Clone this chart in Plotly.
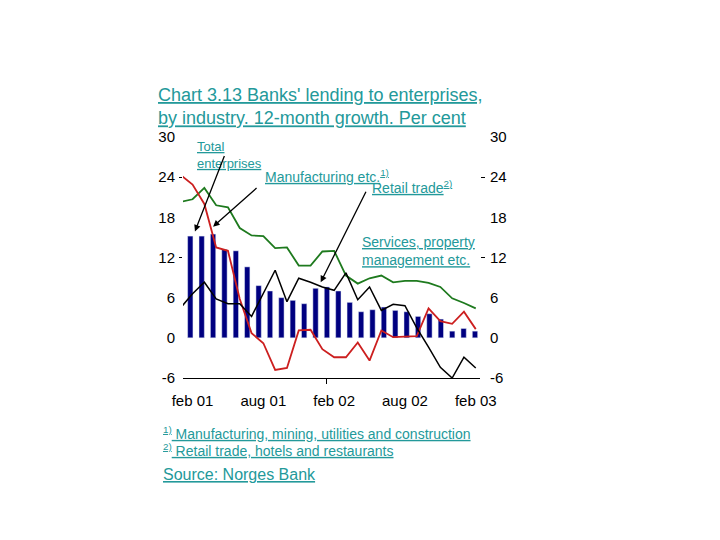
import plotly.graph_objects as go

# ---- data (12-month growth, per cent) ----
months = ["jan 01", "feb 01", "mar 01", "apr 01", "mai 01", "jun 01", "jul 01", "aug 01",
          "sep 01", "okt 01", "nov 01", "des 01", "jan 02", "feb 02", "mar 02", "apr 02",
          "mai 02", "jun 02", "jul 02", "aug 02", "sep 02", "okt 02", "nov 02", "des 02",
          "jan 03", "feb 03"]

total = [15.2, 15.2, 15.5, 13.2, 13.0, 10.6, 7.8, 7.0, 6.0, 5.6, 5.1, 7.4, 7.6,
         7.0, 5.3, 3.9, 4.2, 4.6, 4.1, 3.9, 3.2, 3.6, 2.8, 1.0, 1.4, 1.0]
manufacturing = [24.3, 22.9, 20.0, 13.5, 13.0, 5.8, 0.7, -0.8, -4.8, -4.5, 1.1, 1.2, -1.7,
                 -2.9, -2.9, -0.7, -3.4, 1.1, 0.1, 0.15, 0.25, 4.4, 2.5, 2.1, 3.9, 1.3]
retail = [4.5, 6.6, 8.3, 5.8, 5.1, 5.1, 3.2, 6.6, 10.1, 5.4, 8.9, 8.3, 7.6,
          7.1, 9.7, 5.7, 7.6, 4.1, 5.0, 4.8, 1.5, -1.4, -4.4, -6.0, -2.9, -4.5]
services = [20.3, 20.7, 22.4, 19.8, 19.5, 16.4, 15.3, 15.2, 13.4, 13.5, 10.8, 10.8, 12.9,
            13.0, 9.3, 8.1, 8.9, 9.3, 8.3, 8.5, 8.5, 8.2, 7.6, 5.9, 5.2, 4.4]

y_ticks = [-6, 0, 6, 12, 18, 24, 30]
y_ticktext = [str(v) for v in y_ticks]
y_dash = [12, 24]          # only these two have a tick dash in the original
x_labels = ["feb 01", "aug 01", "feb 02", "aug 02", "feb 03"]

TEAL = "#23999a"
FONT = "Liberation Sans, Arial"
idx = list(range(len(months)))

# plot area in page pixels; the page body adds an 8px margin around the figure
OFF = 8
L, R, T, B = 183, 480, 137, 378


def px_x(p):
    return (p - L) / (R - L)


def px_y(p):
    return (B - p) / (B - T)


fig = go.Figure()

fig.add_trace(go.Bar(x=idx, y=total, name="Total enterprises", marker_color="#000080",
                     width=0.47, xaxis="x", yaxis="y"))
fig.add_trace(go.Scatter(x=idx, y=services, name="Services", mode="lines",
                         line=dict(color="#1e7a1e", width=1.8), xaxis="x2", yaxis="y"))
fig.add_trace(go.Scatter(x=idx, y=manufacturing, name="Manufacturing", mode="lines",
                         line=dict(color="#cc1f1f", width=1.8), xaxis="x2", yaxis="y"))
fig.add_trace(go.Scatter(x=idx, y=retail, name="Retail trade", mode="lines",
                         line=dict(color="black", width=1.5), xaxis="x2", yaxis="y"))
# empty traces so the right axis and the dash axes are drawn
fig.add_trace(go.Scatter(x=[None], y=[None], yaxis="y2", xaxis="x", showlegend=False))
fig.add_trace(go.Scatter(x=[None], y=[None], yaxis="y3", xaxis="x", showlegend=False))
fig.add_trace(go.Scatter(x=[None], y=[None], yaxis="y4", xaxis="x", showlegend=False))

# bars and lines sit on slightly different category spacing in the original
fig.update_layout(
    width=720 - OFF, height=540 - OFF,
    margin=dict(l=L - OFF, r=720 - R, t=T - OFF, b=540 - B),
    paper_bgcolor="white", plot_bgcolor="white",
    showlegend=False,
    font=dict(family=FONT, color="black"),
    xaxis=dict(range=[-0.64, 25.44], showticklabels=False, showgrid=False, zeroline=False,
               showline=True, linecolor="black", linewidth=1, tickvals=[12],
               ticks="outside", ticklen=5, tickcolor="black"),
    xaxis2=dict(overlaying="x", side="bottom", range=[0.19, 25.36], showgrid=False,
                zeroline=False, tickvals=[1, 7, 13, 19, 25], ticktext=x_labels,
                tickfont=dict(size=15), ticks="", ticklabelstandoff=12),
    yaxis=dict(range=[-6, 30], tickvals=y_ticks, ticktext=y_ticktext, showgrid=False,
               zeroline=False, tickfont=dict(size=15), ticks="", ticklabelstandoff=7),
    yaxis2=dict(overlaying="y", side="right", range=[-6, 30], tickvals=y_ticks,
                ticktext=y_ticktext, showgrid=False, zeroline=False,
                tickfont=dict(size=15), ticks="", ticklabelstandoff=9),
    yaxis3=dict(overlaying="y", side="left", range=[-6, 30], tickvals=y_dash,
                showticklabels=False, showgrid=False, zeroline=False,
                ticks="outside", ticklen=3, tickcolor="black"),
    yaxis4=dict(overlaying="y", side="right", range=[-6, 30], tickvals=y_dash,
                showticklabels=False, showgrid=False, zeroline=False,
                ticks="outside", ticklen=4, tickcolor="black"),
)


def label(text, x, y, size):
    fig.add_annotation(text=text, xref="paper", yref="paper", x=px_x(x), y=px_y(y),
                       xanchor="left", yanchor="middle", align="left", showarrow=False,
                       font=dict(family=FONT, size=size, color=TEAL))


label("<u>Chart 3.13 Banks' lending to enterprises,</u><br><u>by industry. 12-month growth. Per cent</u>",
      156, 106, 18)
label("<u>Total</u><br><u>enterprises</u>", 195, 155, 13)
label("<u>Manufacturing etc.<sup>1)</sup></u>", 263, 176, 14)
label("<u>Retail trade<sup>2)</sup></u>", 370, 187, 14)
label("<u>Services, property</u><br><u>management etc.</u>", 360, 251, 14)
label("<u><sup>1)</sup> Manufacturing, mining, utilities and construction</u>", 161, 433, 14)
label("<u><sup>2)</sup> Retail trade, hotels and restaurants</u>", 161, 450, 14)
label("<u>Source: Norges Bank</u>", 161, 474, 16)

# arrows from labels to series
for hx, hy, ax, ay in [(0.41, 15.9, 30, -77), (2.0, 16.6, 45, -40), (11.45, 8.3, 46, -92)]:
    fig.add_annotation(x=hx, y=hy, xref="x", yref="y", ax=ax, ay=ay, text="",
                       showarrow=True, arrowhead=2, arrowsize=1, arrowwidth=1.3,
                       arrowcolor="black")

fig.write_html("out.html")
